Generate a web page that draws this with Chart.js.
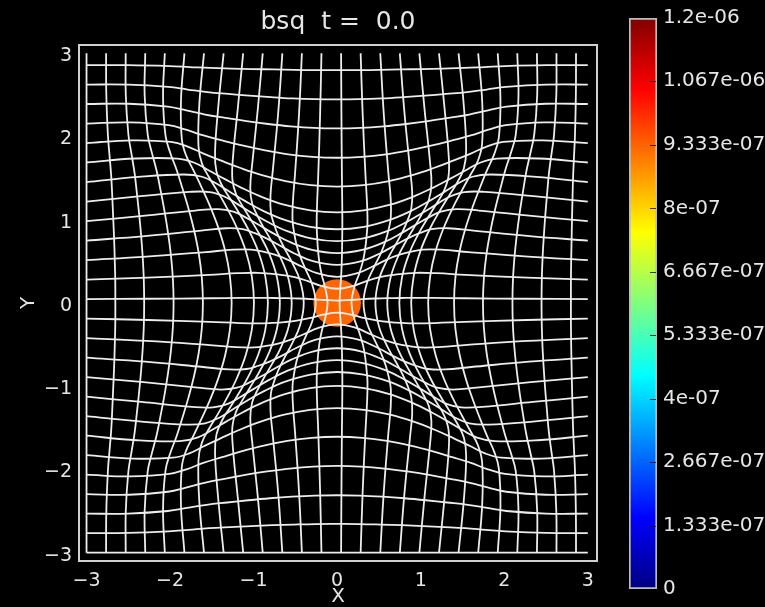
<!DOCTYPE html>
<html>
<head>
<meta charset="utf-8">
<script src="https://cdn.jsdelivr.net/npm/chart.js@4.4.0/dist/chart.umd.min.js"></script>
<style>
  html, body { margin: 0; padding: 0; background: #000; }
  #wrap { position: relative; width: 765px; height: 607px; overflow: hidden; background: #000; }
  #mesh { position: absolute; left: 0; top: 0; }
  #cbar { position: absolute; left: 600px; top: 0; }
</style>
</head>
<body>
<div id="wrap">
  <canvas id="mesh" width="765" height="607"></canvas>
  <canvas id="cbar" width="165" height="607"></canvas>
</div>
<script>
// Mesh lines. Line k starts on the domain edge at
// -3 + k*0.234 (every 10th zone). For each line two lists, half line only:
//  lineAlong  - position along the line (x for a horizontal line)
//  lineAcross - position across it (y for a horizontal line)
// The other half is the mirror image; vertical line k is horizontal line k with x and y swapped.
const lineAlong = [
  [0, 0.25, 0.5, 0.75, 1, 1.25, 1.5, 1.75, 2, 2.5, 3],
  [0, 0.260, 0.519, 0.776, 1.031, 1.283, 1.533, 1.776, 2.016, 2.502, 3],
  [0, 0.271, 0.540, 0.805, 1.064, 1.316, 1.563, 1.797, 2.025, 2.500, 3],
  [0, 0.286, 0.567, 0.839, 1.100, 1.350, 1.589, 1.810, 2.025, 2.493, 3],
  [0, 0.304, 0.598, 0.877, 1.137, 1.378, 1.602, 1.805, 2.009, 2.475, 3],
  [0, 0.324, 0.633, 0.915, 1.167, 1.390, 1.590, 1.770, 1.966, 2.444, 3],
  [0, 0.323, 0.626, 0.895, 1.128, 1.329, 1.505, 1.675, 1.883, 2.402, 3],
  [0, 0.319, 0.612, 0.864, 1.075, 1.255, 1.412, 1.581, 1.809, 2.370, 3],
  [0, 0.309, 0.585, 0.814, 1.003, 1.164, 1.308, 1.485, 1.738, 2.342, 3],
  [0, 0.292, 0.544, 0.747, 0.913, 1.060, 1.197, 1.386, 1.669, 2.317, 3],
  [0, 0.265, 0.485, 0.660, 0.810, 0.950, 1.087, 1.293, 1.605, 2.295, 3],
  [0, 0.223, 0.407, 0.563, 0.707, 0.850, 0.993, 1.217, 1.555, 2.279, 3],
  [0, 0.172, 0.331, 0.482, 0.631, 0.781, 0.931, 1.169, 1.524, 2.269, 3],
  [0, 0.154, 0.307, 0.459, 0.611, 0.764, 0.916, 1.157, 1.517, 2.266, 3],
  [0, 0.192, 0.358, 0.509, 0.656, 0.803, 0.951, 1.184, 1.534, 2.272, 3],
  [0, 0.242, 0.441, 0.602, 0.747, 0.887, 1.028, 1.245, 1.573, 2.285, 3],
  [0, 0.278, 0.511, 0.697, 0.852, 0.993, 1.130, 1.329, 1.629, 2.303, 3],
  [0, 0.300, 0.562, 0.776, 0.951, 1.102, 1.242, 1.425, 1.696, 2.327, 3],
  [0, 0.314, 0.597, 0.836, 1.034, 1.202, 1.351, 1.524, 1.767, 2.353, 3],
  [0, 0.322, 0.620, 0.880, 1.100, 1.287, 1.451, 1.618, 1.837, 2.381, 3],
  [0, 0.321, 0.624, 0.898, 1.138, 1.349, 1.535, 1.709, 1.913, 2.417, 3],
  [0, 0.316, 0.619, 0.900, 1.156, 1.388, 1.599, 1.789, 1.987, 2.458, 3],
  [0, 0.296, 0.586, 0.862, 1.123, 1.368, 1.599, 1.810, 2.018, 2.483, 3],
  [0, 0.280, 0.556, 0.825, 1.086, 1.337, 1.580, 1.806, 2.027, 2.497, 3],
  [0, 0.267, 0.532, 0.794, 1.051, 1.304, 1.552, 1.790, 2.022, 2.502, 3],
  [0, 0.255, 0.510, 0.764, 1.017, 1.268, 1.518, 1.765, 2.009, 2.502, 3]
];

const lineAcross = [
  [-3, -3, -3, -3, -3, -3, -3, -3, -3, -3, -3],
  [-2.655, -2.656, -2.662, -2.670, -2.681, -2.692, -2.705, -2.725, -2.744, -2.763, -2.766],
  [-2.310, -2.314, -2.327, -2.346, -2.370, -2.397, -2.425, -2.463, -2.499, -2.530, -2.531],
  [-1.958, -1.966, -1.989, -2.024, -2.066, -2.113, -2.161, -2.219, -2.268, -2.304, -2.297],
  [-1.607, -1.620, -1.657, -1.713, -1.780, -1.852, -1.922, -1.998, -2.054, -2.084, -2.063],
  [-1.263, -1.284, -1.342, -1.426, -1.523, -1.623, -1.718, -1.807, -1.859, -1.869, -1.828],
  [-0.996, -1.022, -1.094, -1.197, -1.312, -1.425, -1.530, -1.618, -1.660, -1.649, -1.594],
  [-0.829, -0.860, -0.942, -1.053, -1.171, -1.282, -1.378, -1.445, -1.462, -1.422, -1.359],
  [-0.686, -0.721, -0.810, -0.924, -1.035, -1.132, -1.211, -1.254, -1.248, -1.189, -1.125],
  [-0.544, -0.583, -0.678, -0.787, -0.884, -0.960, -1.018, -1.040, -1.017, -0.951, -0.891],
  [-0.400, -0.443, -0.538, -0.632, -0.705, -0.757, -0.793, -0.798, -0.769, -0.705, -0.656],
  [-0.257, -0.299, -0.379, -0.444, -0.488, -0.516, -0.534, -0.530, -0.504, -0.456, -0.422],
  [-0.115, -0.141, -0.183, -0.212, -0.229, -0.239, -0.245, -0.241, -0.227, -0.204, -0.188],
  [0.029, 0.036, 0.047, 0.054, 0.058, 0.060, 0.062, 0.061, 0.057, 0.051, 0.047],
  [0.171, 0.206, 0.266, 0.310, 0.336, 0.352, 0.363, 0.358, 0.339, 0.305, 0.281],
  [0.315, 0.358, 0.446, 0.525, 0.580, 0.617, 0.642, 0.641, 0.612, 0.557, 0.516],
  [0.458, 0.499, 0.595, 0.697, 0.780, 0.842, 0.887, 0.898, 0.870, 0.804, 0.750],
  [0.600, 0.638, 0.731, 0.843, 0.946, 1.032, 1.098, 1.128, 1.111, 1.046, 0.984],
  [0.744, 0.777, 0.863, 0.976, 1.091, 1.194, 1.280, 1.333, 1.335, 1.284, 1.219],
  [0.886, 0.916, 0.995, 1.104, 1.224, 1.338, 1.439, 1.517, 1.544, 1.515, 1.453],
  [1.089, 1.113, 1.178, 1.273, 1.381, 1.491, 1.593, 1.685, 1.735, 1.736, 1.688],
  [1.399, 1.416, 1.465, 1.537, 1.622, 1.710, 1.795, 1.880, 1.935, 1.954, 1.922],
  [1.745, 1.756, 1.787, 1.834, 1.890, 1.952, 2.013, 2.082, 2.137, 2.170, 2.156],
  [2.098, 2.104, 2.123, 2.151, 2.185, 2.224, 2.264, 2.314, 2.359, 2.394, 2.391],
  [2.446, 2.449, 2.458, 2.473, 2.491, 2.512, 2.534, 2.565, 2.596, 2.623, 2.625],
  [2.798, 2.798, 2.801, 2.806, 2.811, 2.817, 2.824, 2.835, 2.846, 2.857, 2.859]
];

const axisTicks = [-3, -2, -1, 0, 1, 2, 3];

// the bsq blob in the middle
const blobCenter = [0, 0];
const blobRadius = 0.285;
const blobValue = 9.3e-7;

// colour bar
const cbMax = 1.2e-6;
const cbTicks = [0, 1.333e-7, 2.667e-7, 4e-7, 5.333e-7, 6.667e-7, 8e-7, 9.333e-7, 1.067e-6, 1.2e-6];
const cbLabels = ['0', '1.333e-07', '2.667e-07', '4e-07', '5.333e-07', '6.667e-07', '8e-07',
  '9.333e-07', '1.067e-06', '1.2e-06'];

// jet colour table
const jetStops = [
  [0, [0, 0, 128]], [0.125, [0, 0, 255]], [0.375, [0, 255, 255]],
  [0.625, [255, 255, 0]], [0.875, [255, 0, 0]], [1, [128, 0, 0]]
];

function jet(t) {
  t = Math.min(1, Math.max(0, t));
  for (let i = 1; i < jetStops.length; i++) {
    const [t1, c1] = jetStops[i];
    const [t0, c0] = jetStops[i - 1];
    if (t <= t1) {
      const f = (t - t0) / (t1 - t0);
      const c = c0.map((v, j) => Math.round(v + (c1[j] - v) * f));
      return `rgb(${c[0]},${c[1]},${c[2]})`;
    }
  }
  return 'rgb(128,0,0)';
}

Chart.defaults.font.family = "'DejaVu Sans', sans-serif";
Chart.defaults.color = '#e6e6e6';

const textColor = '#e6e6e6';
const lineColor = '#ededed';
const fmtTick = v => (v < 0 ? '\u2212' + Math.abs(v) : String(v));

// build mesh line datasets
const datasets = [];
lineAlong.forEach((along, k) => {
  const across = lineAcross[k];
  const pts = [];
  for (let i = along.length - 1; i > 0; i--) pts.push({ x: -along[i], y: across[i] });
  for (let i = 0; i < along.length; i++) pts.push({ x: along[i], y: across[i] });
  const common = {
    showLine: true, borderColor: lineColor, borderWidth: 1.8,
    pointRadius: 0, tension: 0.4, order: 0
  };
  datasets.push(Object.assign({ data: pts }, common));
  datasets.push(Object.assign({ data: pts.map(p => ({ x: p.y, y: p.x })) }, common));
});

datasets.push({
  data: [{ x: blobCenter[0], y: blobCenter[1] }],
  showLine: false,
  backgroundColor: jet(blobValue / cbMax),
  borderWidth: 0,
  pointRadius: ctx => {
    const xs = ctx.chart.scales.x;
    return Math.abs(xs.getPixelForValue(blobRadius) - xs.getPixelForValue(0));
  },
  order: 1
});

const framePlugin = {
  id: 'frame',
  afterDraw(chart) {
    const { ctx, chartArea: a } = chart;
    ctx.save();
    ctx.strokeStyle = '#d0d0d0';
    ctx.lineWidth = 2;
    ctx.strokeRect(a.left, a.top, a.right - a.left, a.bottom - a.top);
    ctx.restore();
  }
};

new Chart(document.getElementById('mesh'), {
  type: 'scatter',
  data: { datasets },
  options: {
    responsive: false,
    animation: false,
    events: [],
    layout: { padding: { left: 0, right: 168, top: 0, bottom: 0 } },
    plugins: {
      legend: { display: false },
      tooltip: { enabled: false },
      title: {
        display: true,
        fullSize: false,
        text: 'bsq  t =  0.0',
        color: textColor,
        font: { size: 25, weight: 'normal', lineHeight: 1 },
        padding: { top: 10, bottom: 10 }
      }
    },
    scales: {
      x: {
        type: 'linear', min: -3.09, max: 3.11,
        afterBuildTicks: s => { s.ticks = axisTicks.map(v => ({ value: v })); },
        afterFit: s => { s.height = 46; },
        ticks: { color: textColor, font: { size: 19 }, padding: 9, callback: fmtTick, maxRotation: 0 },
        grid: { display: false, drawTicks: false },
        border: { display: false },
        title: { display: true, text: 'X', color: textColor, font: { size: 20, lineHeight: 1 }, padding: 0 }
      },
      y: {
        type: 'linear', min: -3.1, max: 3.1,
        afterBuildTicks: s => { s.ticks = axisTicks.map(v => ({ value: v })); },
        afterFit: s => { s.width = 79; },
        ticks: { color: textColor, font: { size: 19 }, padding: 7, labelOffset: 3, callback: fmtTick },
        grid: { display: false, drawTicks: false },
        border: { display: false },
        title: { display: true, text: 'Y', color: textColor, font: { size: 20, lineHeight: 1 }, padding: { top: 19, bottom: 0 } }
      }
    }
  },
  plugins: [framePlugin]
});

// small dark ticks inside the colour bar
const cbTickPlugin = {
  id: 'cbTicks',
  afterDatasetsDraw(chart) {
    const { ctx, chartArea: a, scales: { y } } = chart;
    ctx.save();
    ctx.strokeStyle = 'rgba(30,10,10,0.8)';
    ctx.lineWidth = 1;
    cbTicks.slice(1, -1).forEach(v => {
      const py = Math.round(y.getPixelForValue(v)) + 0.5;
      ctx.beginPath();
      ctx.moveTo(a.right - 7, py);
      ctx.lineTo(a.right - 1, py);
      ctx.stroke();
    });
    ctx.restore();
  }
};

new Chart(document.getElementById('cbar'), {
  type: 'bar',
  data: {
    labels: ['bsq'],
    datasets: [{
      data: [[0, cbMax]],
      backgroundColor: ctx => {
        const a = ctx.chart.chartArea;
        if (!a) return null;
        const g = ctx.chart.ctx.createLinearGradient(0, a.bottom, 0, a.top);
        jetStops.forEach(([t, c]) => g.addColorStop(t, `rgb(${c[0]},${c[1]},${c[2]})`));
        return g;
      },
      borderColor: '#bdbdbd',
      borderWidth: 2,
      borderSkipped: false,
      barPercentage: 1,
      categoryPercentage: 1
    }]
  },
  options: {
    responsive: false,
    animation: false,
    events: [],
    layout: { padding: { left: 29, top: 17, bottom: 17, right: 0 } },
    plugins: { legend: { display: false }, tooltip: { enabled: false } },
    scales: {
      x: { display: false },
      y: {
        position: 'right', min: 0, max: cbMax,
        afterBuildTicks: s => { s.ticks = cbTicks.map(v => ({ value: v })); },
        afterFit: s => { s.width = 108; },
        ticks: { color: textColor, font: { size: 20 }, padding: 6, callback: (v, i) => cbLabels[i] },
        grid: { display: false, drawTicks: false },
        border: { display: false }
      }
    }
  },
  plugins: [cbTickPlugin]
});
</script>
</body>
</html>
